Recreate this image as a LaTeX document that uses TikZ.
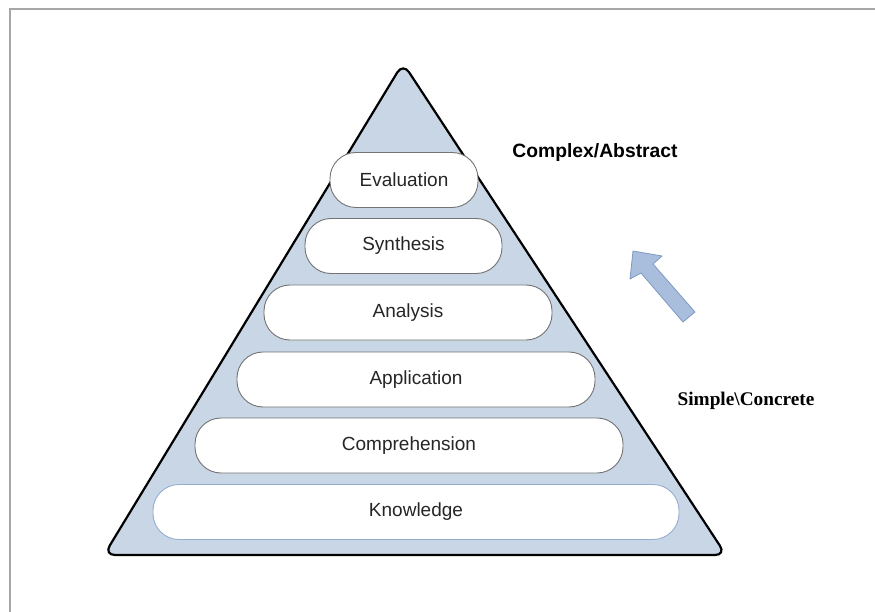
\documentclass[tikz,border=0pt]{standalone}
\usepackage{fontspec}
\setmainfont{Liberation Sans}
\newfontfamily\serifbold{Liberation Serif}
\usepackage{tikz}
\definecolor{pyrfill}{HTML}{C9D6E5}
\definecolor{arrfill}{HTML}{A9BEDC}
\definecolor{arrline}{HTML}{7F99C1}
\definecolor{knowline}{HTML}{94AED0}
\tikzstyle{tier}=[draw=black!55,fill=white,line width=0.9pt,
                  rounded corners=26pt,minimum height=55pt,inner sep=0pt,
                  font=\fontsize{19}{22}\selectfont,text=black!85]
\tikzstyle{sidelabel}=[inner sep=0pt,font=\bfseries\fontsize{19.3}{22}\selectfont]

\begin{document}
\begin{tikzpicture}[x=1pt,y=-1pt]
    \useasboundingbox (0,0) rectangle (875,612);
    % page frame
    \draw[black!35,line width=1.8pt] (10,612) -- (10,9) -- (875,9);
    % pyramid
    \coordinate (apex) at (403,63);
    \coordinate (bl) at (104,555);
    \coordinate (br) at (726,555);
    \draw[fill=pyrfill,line width=2.2pt,rounded corners=11pt]
        (apex) -- (br) -- (bl) -- cycle;
    \node (eval)  at (404,180)   [tier,minimum width=148pt]{Evaluation};
    \node (synth) at (403.5,246) [tier,minimum width=197pt]{Synthesis};
    \node (anal)  at (408,312.5) [tier,minimum width=288pt]{Analysis};
    \node (appl)  at (416,379.5) [tier,minimum width=358pt]{Application};
    \node (compr) at (409,445.5) [tier,minimum width=428pt]{Comprehension};
    \node (know)  at (416,512)   [tier,draw=knowline,minimum width=526pt]{Knowledge};
    % labels and arrow
    \node (cplx) at (595,153) [sidelabel]{Complex/Abstract};
    \node (smpl) at (746,401) [sidelabel,font=\serifbold\bfseries\fontsize{19.3}{22}\selectfont]
        {Simple\textbackslash Concrete};
    \draw[fill=arrfill,draw=arrline,line width=0.8pt,line join=round]
        (633,251) -- (662,256) -- (653,264) -- (695,312)
        -- (683,322) -- (641,273) -- (630,279) -- cycle;
\end{tikzpicture}
\end{document}
